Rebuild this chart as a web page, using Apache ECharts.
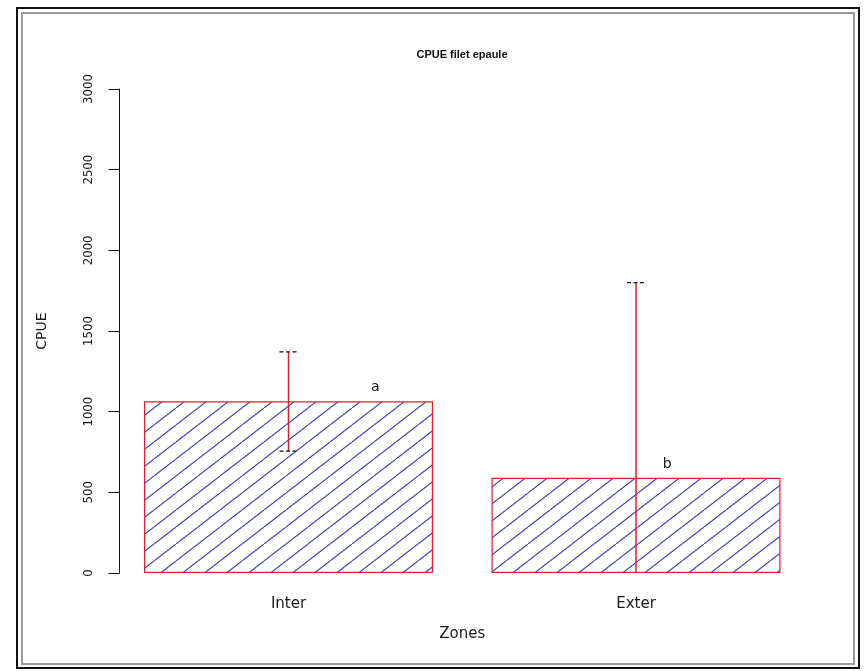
<!DOCTYPE html>
<html><head><meta charset="utf-8">
<script src="https://cdn.jsdelivr.net/npm/echarts@6/dist/echarts.min.js"></script>
<style>html,body{margin:0;padding:0;background:#fff}#c{width:865px;height:671px}</style>
</head><body><div id="c"></div>
<script>
// ---- data ----
const categories = ['Inter', 'Exter'];
const cpueMean = [1065, 590];
const errLow = [755, 0];
const errHigh = [1370, 1800];
const groupLetters = ['a', 'b'];
const letterValue = [1150, 675];
const letterShift = [0.25, 0.09];   // fraction of a category band, right of the bar centre
const yMin = 0, yMax = 3000, yStep = 500;

function hatch() {
  const w = 22, h = 17;
  const c = document.createElement('canvas');
  c.width = w; c.height = h;
  const g = c.getContext('2d');
  g.fillStyle = '#ffffff'; g.fillRect(0, 0, w, h);
  g.strokeStyle = '#3a3ab6'; g.lineWidth = 1.1;
  for (let k = -1; k <= 1; k++) {
    g.beginPath(); g.moveTo(k * w, h); g.lineTo(k * w + w, 0); g.stroke();
  }
  return c;
}

const RED = '#e0202c';
const FONT = 'DejaVu Sans';
const chart = echarts.init(document.getElementById('c'), null, {renderer: 'canvas'});
chart.setOption({
  animation: false,
  backgroundColor: '#ffffff',
  graphic: [
    {type: 'rect', shape: {x: 17, y: 8, width: 842, height: 660}, style: {fill: 'none', stroke: '#111', lineWidth: 2}, z: 100},
    {type: 'rect', shape: {x: 22, y: 13, width: 832, height: 651}, style: {fill: 'none', stroke: '#9a9a9a', lineWidth: 2}, z: 100},
    {type: 'text', x: 462, y: 55, style: {text: 'CPUE filet epaule', font: 'bold 11px "Liberation Sans"', fill: '#111', align: 'center', verticalAlign: 'middle'}}
  ],
  grid: {left: 114.75, right: 55.25, top: 89, bottom: 98, containLabel: false},
  xAxis: {
    type: 'category', data: categories,
    axisLine: {show: false}, axisTick: {show: false},
    axisLabel: {margin: 24, fontSize: 15, fontFamily: FONT, color: '#1a1a1a'},
    name: 'Zones', nameLocation: 'middle', nameGap: 54,
    nameTextStyle: {fontSize: 15, fontFamily: FONT, color: '#1a1a1a'}
  },
  yAxis: {
    type: 'value', min: yMin, max: yMax, interval: yStep, offset: -4.75,
    splitLine: {show: false},
    axisLine: {show: true, lineStyle: {color: '#111', width: 1}},
    axisTick: {show: true, length: 11, lineStyle: {color: '#111', width: 1}},
    axisLabel: {rotate: 90, margin: 24, fontSize: 13, fontFamily: 'DejaVu Sans Condensed, DejaVu Sans', color: '#1a1a1a',
      formatter: v => String(v)},
    name: 'CPUE', nameLocation: 'middle', nameRotate: 90, nameGap: 70,
    nameTextStyle: {fontSize: 14, fontFamily: FONT, color: '#1a1a1a'}
  },
  series: [
    {
      type: 'bar', data: cpueMean, barWidth: 289,
      itemStyle: {color: {image: hatch(), repeat: 'repeat'}, borderColor: RED, borderWidth: 1.2}
    },
    {
      type: 'custom', z: 5,
      data: categories.map((c, i) => [i, errLow[i], errHigh[i]]),
      encode: {x: 0, y: [1, 2]},
      renderItem: function (params, api) {
        const i = api.value(0);
        const top = api.coord([i, api.value(2)]);
        const bot = api.coord([i, api.value(1)]);
        const half = 9;
        const kids = [
          {type: 'line', shape: {x1: top[0], y1: top[1], x2: bot[0], y2: bot[1]}, style: {stroke: RED, lineWidth: 1.5}},
          {type: 'line', shape: {x1: top[0] - half, y1: top[1], x2: top[0] + half, y2: top[1]}, style: {stroke: '#111', lineWidth: 1.3, lineDash: [4, 2.5]}}
        ];
        if (api.value(1) > yMin) {
          kids.push({type: 'line', shape: {x1: bot[0] - half, y1: bot[1], x2: bot[0] + half, y2: bot[1]}, style: {stroke: '#111', lineWidth: 1.3, lineDash: [4, 2.5]}});
        }
        return {type: 'group', children: kids};
      }
    },
    {
      type: 'custom', z: 6,
      data: categories.map((c, i) => [i, letterValue[i]]),
      encode: {x: 0, y: 1},
      renderItem: function (params, api) {
        const i = params.dataIndex;
        const p = api.coord([api.value(0), api.value(1)]);
        const band = api.size([1, 0])[0];
        return {type: 'text', x: p[0] + letterShift[i] * band, y: p[1],
          style: {text: groupLetters[i], fontSize: 14, fontFamily: FONT, fill: '#111', align: 'center', verticalAlign: 'middle'}};
      }
    }
  ]
});
</script>
</body></html>
